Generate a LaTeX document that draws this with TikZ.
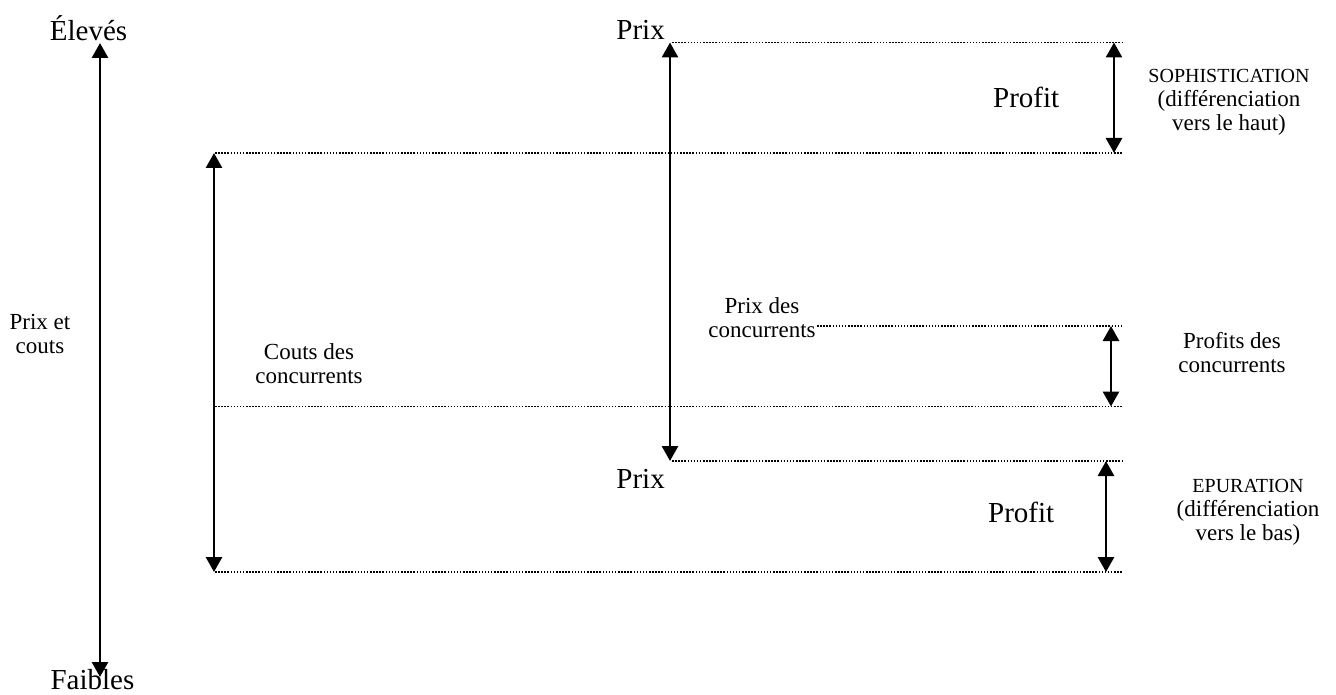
\documentclass[tikz,border=0pt]{standalone}
\usepackage{fontspec}
\setmainfont{Liberation Serif}
\usepackage{tikz}
\usetikzlibrary{arrows.meta}

\tikzset{
  grand/.style={inner sep=0pt, font=\fontsize{29}{34}\selectfont},
  petit/.style={inner sep=0pt, align=center, font=\fontsize{23}{24}\selectfont},
  fleche/.style={line width=2.8pt, {Triangle[length=15pt,width=16pt]}-{Triangle[length=15pt,width=16pt]}},
  niveau/.style={line width=1.6pt, dash pattern=on 1.5pt off 1.6pt}
}

\begin{document}
\begin{tikzpicture}[x=1pt, y=-1pt]
  \useasboundingbox (0,0) rectangle (1336,695);

  %Define nodes
  \node[grand, anchor=base] (eleves) at (88.5,41) {Élevés};
  \node[grand, anchor=base] (faibles) at (92.5,689) {Faibles};
  \node[petit, anchor=base] (prixcouts) at (40,353) {Prix et\\couts};

  \node[grand, anchor=base east] (prixhaut) at (665,40) {Prix};
  \node[grand, anchor=base east] (prixbas) at (665,488) {Prix};
  \node[grand, anchor=base west] (profithaut) at (993,108) {Profit};
  \node[grand, anchor=base west] (profitbas) at (988,522) {Profit};

  \node[petit, anchor=base] (coutsconc) at (309,383) {Couts des\\concurrents};
  \node[petit, anchor=base] (prixconc) at (762,337) {Prix des\\concurrents};
  \node[petit, anchor=base] (profitsconc) at (1232,372) {Profits des\\concurrents};
  \node[petit, anchor=base] (sophis) at (1229,131)
    {{\fontsize{20}{24}\selectfont SOPHISTICATION}\\(différenciation\\vers le haut)};
  \node[petit, anchor=base] (epur) at (1248,540)
    {{\fontsize{20}{24}\selectfont EPURATION}\\(différenciation\\vers le bas)};

  % Levels (start and end of each dotted line)
  \coordinate (n1a) at (672,42.5);   \coordinate (n1b) at (1123,42.5);
  \coordinate (n2a) at (215,153);    \coordinate (n2b) at (1123,153);
  \coordinate (n3a) at (817,326);    \coordinate (n3b) at (1123,326);
  \coordinate (n4a) at (215,406.5);  \coordinate (n4b) at (1123,406.5);
  \coordinate (n5a) at (672,461);    \coordinate (n5b) at (1123,461);
  \coordinate (n6a) at (215,572);    \coordinate (n6b) at (1123,572);

  % Arrow ends
  \coordinate (axe1) at (100,43);    \coordinate (axe2) at (100,677);
  \coordinate (couts1) at (214,153); \coordinate (couts2) at (214,572);
  \coordinate (prix1) at (670,42.5); \coordinate (prix2) at (670,461);
  \coordinate (soph1) at (1114,42.5); \coordinate (soph2) at (1114,153);
  \coordinate (conc1) at (1111,326); \coordinate (conc2) at (1111,406.5);
  \coordinate (epur1) at (1106,461); \coordinate (epur2) at (1106,572);

  % Dotted levels
  \foreach \n in {1,...,6}
    \draw[niveau] (n\n a) -- (n\n b);

  % Connect the nodes
  \draw[fleche] (axe1) -- (axe2);
  \draw[fleche] (couts1) -- (couts2);
  \draw[fleche] (prix1) -- (prix2);
  \draw[fleche] (soph1) -- (soph2);
  \draw[fleche] (conc1) -- (conc2);
  \draw[fleche] (epur1) -- (epur2);

\end{tikzpicture}
\end{document}
